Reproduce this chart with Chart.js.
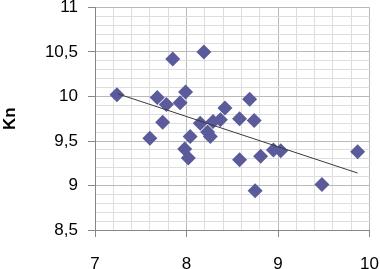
<!DOCTYPE html>
<html>
<head>
<meta charset="UTF-8">
<title>Kn</title>
<script src="https://cdn.jsdelivr.net/npm/chart.js@4/dist/chart.umd.min.js"></script>
<style>
    html, body { margin: 0; padding: 0; background: #fff; }
    .wrap { width: 380px; height: 269px; position: relative; }
</style>
</head>
<body>
<div class="wrap"><canvas id="knChart"></canvas></div>
<script>
    // values
    const xValues = [7.24, 7.85, 8.19, 7.60, 7.68, 7.78, 7.74, 7.93, 7.99, 8.04, 7.98, 8.02, 8.15, 8.23,
                     8.26, 8.29, 8.37, 8.42, 8.58, 8.74, 8.69, 8.58, 8.81, 8.95, 9.03, 8.75, 9.48, 9.87];
    const knValues = [10.02, 10.42, 10.50, 9.53, 9.99, 9.91, 9.71, 9.93, 10.05, 9.55, 9.41, 9.31, 9.70, 9.60,
                      9.55, 9.72, 9.74, 9.87, 9.75, 9.73, 9.97, 9.29, 9.33, 9.40, 9.39, 8.94, 9.01, 9.38];
    const trendX = [7.25, 9.87];
    const trendY = [10.03, 9.14];
    const xRange = [7, 10];
    const yRange = [8.5, 11];

    const points = xValues.map((x, i) => ({ x: x, y: knValues[i] }));
    const trend = trendX.map((x, i) => ({ x: x, y: trendY[i] }));

    const isStep = (v, step) => Math.abs(v / step - Math.round(v / step)) < 1e-6;
    const fmt = v => String(Math.round(v * 10) / 10).replace('.', ',');
    const labelFont = { family: "'Liberation Sans', Arial, sans-serif", size: 17 };

    new Chart(document.getElementById('knChart'), {
        type: 'scatter',
        data: {
            datasets: [{
                type: 'line',
                data: trend,
                borderColor: '#3a3a3a',
                borderWidth: 1,
                pointRadius: 0,
                fill: false
            }, {
                data: points,
                pointStyle: 'rectRot',
                pointRadius: 7.5,
                backgroundColor: '#5b5b9c',
                borderColor: '#5b5b9c',
                borderWidth: 0
            }]
        },
        options: {
            responsive: true,
            maintainAspectRatio: false,
            animation: false,
            layout: { padding: { top: 6, right: 10.5, left: 0, bottom: 0 } },
            plugins: { legend: { display: false }, tooltip: { enabled: false } },
            scales: {
                x: {
                    type: 'linear',
                    min: xRange[0],
                    max: xRange[1],
                    afterFit: s => { s.height = 39; s.paddingLeft = 0; s.paddingRight = 0; },
                    ticks: {
                        stepSize: 0.2,
                        autoSkip: false,
                        maxRotation: 0,
                        padding: 17,
                        color: '#000',
                        font: labelFont,
                        callback: v => isStep(v, 1) ? fmt(v) : ''
                    },
                    grid: {
                        color: c => isStep(c.tick.value, 1) ? '#bababa' : '#dedede',
                        tickColor: c => isStep(c.tick.value, 1) ? '#868686' : 'rgba(0,0,0,0)',
                        tickLength: 7
                    },
                    border: { color: '#868686' }
                },
                y: {
                    type: 'linear',
                    min: yRange[0],
                    max: yRange[1],
                    afterFit: s => { s.width = 95; s.paddingTop = 0; s.paddingBottom = 0; },
                    title: {
                        display: true,
                        text: 'Kn',
                        color: '#000',
                        font: { family: "'Liberation Sans', Arial, sans-serif", size: 17, weight: 'bold' },
                        padding: 0
                    },
                    ticks: {
                        stepSize: 0.1,
                        autoSkip: false,
                        padding: 10,
                        color: '#000',
                        font: labelFont,
                        callback: v => isStep(v, 0.5) ? fmt(v) : ''
                    },
                    grid: {
                        color: c => isStep(c.tick.value, 0.5) ? '#bababa' : '#dedede',
                        tickColor: c => isStep(c.tick.value, 0.5) ? '#868686' : 'rgba(0,0,0,0)',
                        tickLength: 7
                    },
                    border: { color: '#868686' }
                }
            }
        }
    });
</script>
</body>
</html>
